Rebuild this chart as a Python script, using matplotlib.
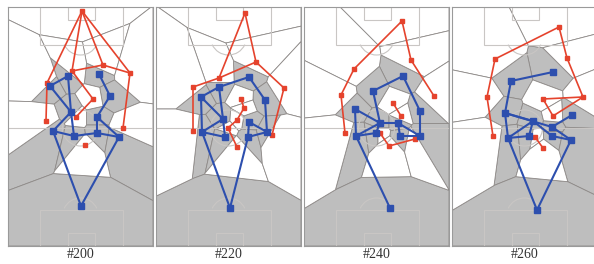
"""
Four snapshots of a match: team passing networks drawn over the
Voronoi-style dominant regions (blue team's regions shaded grey).
"""

import numpy as np
import matplotlib
matplotlib.use("Agg")
import matplotlib.pyplot as plt
from matplotlib.patches import Rectangle, Polygon, Circle, Arc

# ── data (panel-local pixel units: x 0..145 left→right, y 0..239 top→bottom) ──
FRAMES = ["#200", "#220", "#240", "#260"]

red_200 = [(74, 4), (95, 58), (122, 66), (39, 76), (64, 64), (85, 92),
           (68, 110), (38, 114), (115, 121), (77, 138)]
red_edges_200 = [(0, 3), (0, 4), (0, 1), (0, 2), (4, 1), (1, 2), (3, 7),
                 (2, 8), (4, 5), (5, 6)]
blue_200 = [(60, 69), (42, 79), (91, 67), (102, 89), (63, 105), (89, 110),
            (45, 124), (66, 129), (89, 126), (111, 130), (73, 199)]
blue_edges_200 = [(0, 1), (0, 4), (1, 4), (4, 7), (4, 6), (6, 7), (7, 8),
                  (8, 9), (8, 5), (5, 3), (3, 2), (5, 9), (6, 10), (9, 10)]

red_220 = [(89, 6), (100, 55), (63, 71), (37, 80), (128, 81), (85, 92),
           (88, 101), (81, 113), (72, 121), (81, 140), (37, 124), (116, 128)]
red_edges_220 = [(0, 1), (0, 2), (2, 1), (2, 3), (1, 4), (3, 10), (4, 11),
                 (5, 6), (6, 7), (7, 8), (8, 9)]
blue_220 = [(93, 70), (63, 80), (45, 90), (109, 93), (67, 112), (93, 115),
            (46, 125), (69, 130), (92, 130), (111, 125), (74, 201)]
blue_edges_220 = [(1, 0), (0, 3), (1, 2), (2, 4), (1, 4), (2, 6), (6, 4),
                  (6, 7), (4, 7), (3, 9), (5, 9), (5, 8), (8, 9), (6, 10),
                  (8, 10)]

red_240 = [(98, 14), (107, 53), (130, 89), (50, 62), (37, 88), (41, 126),
           (89, 96), (97, 109), (76, 126), (85, 139), (111, 132)]
red_edges_240 = [(0, 1), (1, 2), (0, 3), (3, 4), (4, 5), (6, 7), (8, 9),
                 (9, 10)]
blue_240 = [(99, 69), (69, 84), (51, 102), (116, 104), (76, 116), (94, 116),
            (52, 129), (72, 126), (96, 129), (116, 129), (86, 201)]
blue_edges_240 = [(0, 1), (0, 3), (1, 4), (2, 4), (2, 6), (6, 4), (6, 7),
                  (4, 7), (4, 5), (5, 8), (8, 9), (3, 9), (5, 9), (6, 10)]

red_260 = [(107, 20), (115, 51), (43, 52), (35, 90), (131, 90), (91, 92),
           (101, 109), (41, 129), (83, 130), (91, 141)]
red_edges_260 = [(0, 1), (1, 4), (0, 2), (2, 3), (3, 7), (4, 5), (5, 6),
                 (6, 4), (8, 9)]
blue_260 = [(101, 65), (59, 74), (120, 108), (53, 106), (81, 114), (100, 120),
            (56, 131), (77, 129), (100, 129), (119, 133), (85, 203)]
blue_edges_260 = [(0, 1), (1, 3), (3, 6), (3, 4), (4, 6), (6, 7), (4, 7),
                  (3, 5), (5, 2), (5, 9), (8, 9), (6, 10), (9, 10), (4, 8)]

RED = [red_200, red_220, red_240, red_260]
RED_EDGES = [red_edges_200, red_edges_220, red_edges_240, red_edges_260]
BLUE = [blue_200, blue_220, blue_240, blue_260]
BLUE_EDGES = [blue_edges_200, blue_edges_220, blue_edges_240, blue_edges_260]

# ── style ────────────────────────────────────────────────────────────────────
W, H = 145, 239
C_RED = "#e5432d"
C_BLUE = "#2d4fae"
C_FILL = "#bebebe"
C_CELL = "#8e8a88"
C_PITCH = "#c9c6c4"


def clip(poly, p, q):
    """Keep the part of poly that is closer to p than to q."""
    p, q = np.asarray(p, float), np.asarray(q, float)
    n = q - p
    c = n @ (p + q) / 2
    out = []
    for i in range(len(poly)):
        a, b = poly[i], poly[(i + 1) % len(poly)]
        da, db = a @ n - c, b @ n - c
        if da <= 0:
            out.append(a)
        if da * db < 0:
            t = da / (da - db)
            out.append(a + t * (b - a))
    return out


def voronoi_cells(points):
    box = [np.array(v, float) for v in [(0, 0), (W, 0), (W, H), (0, H)]]
    cells = []
    for i, p in enumerate(points):
        poly = box
        for j, q in enumerate(points):
            if i != j and len(poly):
                poly = clip(poly, p, q)
        cells.append(poly)
    return cells


def draw_pitch(ax):
    kw = dict(fill=False, ec=C_PITCH, lw=0.8, zorder=2)
    ax.add_patch(Rectangle((32, 0), 83, 38, **kw))
    ax.add_patch(Rectangle((60, 0), 27, 13, **kw))
    ax.add_patch(Rectangle((32, 203), 83, 36, **kw))
    ax.add_patch(Rectangle((60, 226), 27, 13, **kw))
    ax.plot([0, W], [121, 121], color=C_PITCH, lw=0.8, zorder=2)
    ax.add_patch(Circle((72.5, 121), 18, **kw))
    ax.add_patch(Arc((72.5, 30), 36, 36, theta1=25, theta2=155, **kw))
    ax.add_patch(Arc((72.5, 209), 36, 36, theta1=205, theta2=335, **kw))


fig = plt.figure(figsize=(5.94, 2.64), dpi=100)
FW, FH = 594, 264

for k, label in enumerate(FRAMES):
    left = 8 + 148 * k
    ax = fig.add_axes([left / FW, 1 - (7 + H) / FH, W / FW, H / FH])
    ax.set_xlim(0, W)
    ax.set_ylim(H, 0)
    ax.set_xticks([])
    ax.set_yticks([])
    for s in ax.spines.values():
        s.set_color("#9a9a9a")
        s.set_linewidth(0.8)

    red, blue = RED[k], BLUE[k]
    pts = blue + red
    cells = voronoi_cells(pts)
    for i, cell in enumerate(cells):
        if len(cell) < 3:
            continue
        fc = C_FILL if i < len(blue) else "white"
        ax.add_patch(Polygon(np.array(cell), closed=True, fc=fc, ec=C_CELL,
                             lw=0.6, zorder=1))
    draw_pitch(ax)

    for team, edges, col, lw, ms in [(red, RED_EDGES[k], C_RED, 1.2, 2.6),
                                     (blue, BLUE_EDGES[k], C_BLUE, 1.5, 4.0)]:
        for a, b in edges:
            ax.plot([team[a][0], team[b][0]], [team[a][1], team[b][1]],
                    color=col, lw=lw, zorder=4, solid_capstyle="round")
        xs, ys = zip(*team)
        ax.plot(xs, ys, "s", color=col, ms=ms, zorder=5)

    fig.text((left + W / 2) / FW, 1 - 255 / FH, label, ha="center",
             va="center", fontsize=10, family="Liberation Serif",
             color="#333333")

fig.savefig("out.png", dpi=100)
